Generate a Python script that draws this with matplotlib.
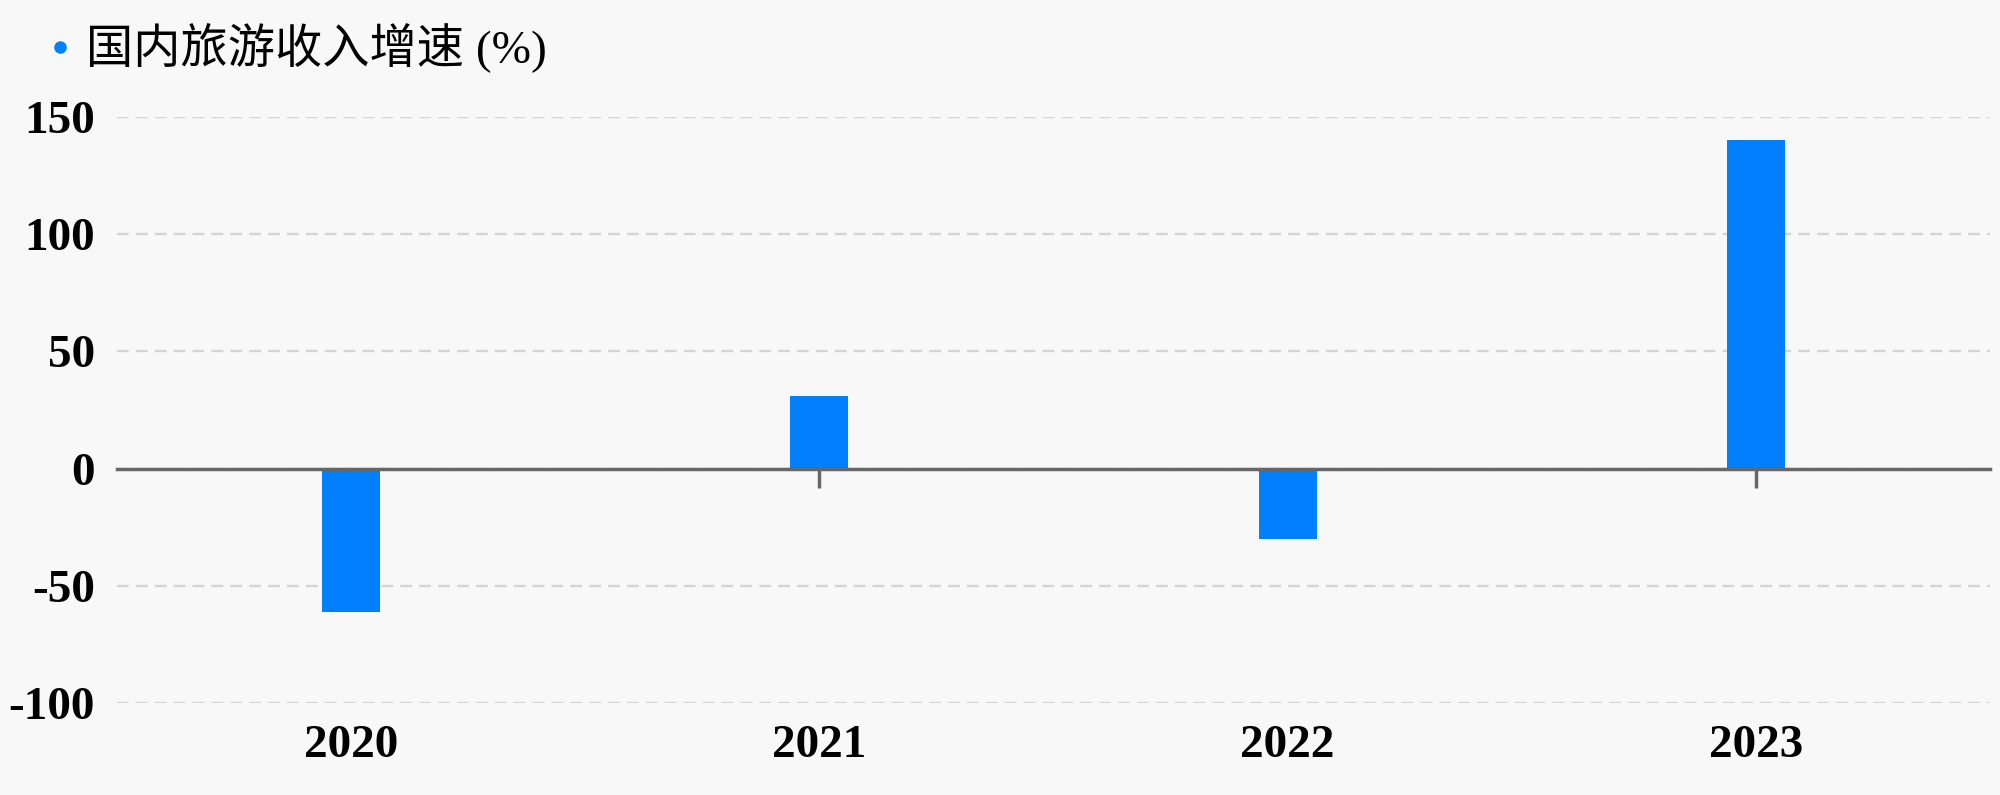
import numpy as np
import matplotlib.pyplot as plt
from matplotlib.lines import Line2D

# data
years  = ['2020', '2021', '2022', '2023']
growth = [-61.1, 31.0, -30.0, 140.3]
yticks = [-100, -50, 0, 50, 100, 150]
series_name = '国内旅游收入增速 (%)'

BG   = '#f8f8f8'
BLUE = '#0080ff'

fig = plt.figure(figsize=(20, 7.95), dpi=100, facecolor=BG)
ax = fig.add_axes([117/2000, 1-703/795, (1990-117)/2000, (703-117)/795])
ax.set_facecolor(BG)

xpos = np.arange(len(years))
ax.bar(xpos, growth, width=0.124, color=BLUE, zorder=1)

ax.set_xlim(-0.5, len(years)-0.5)
ax.set_ylim(yticks[0], yticks[-1])
ax.set_yticks(yticks)
ax.set_yticklabels([str(v) for v in yticks])

# grid
ax.set_axisbelow(True)
ax.grid(axis='y', color='#d4d4d4', lw=1.7, ls=(0, (5.0, 3.0)))
ax.grid(axis='x', visible=False)

# spines: zero line carries the ticks
for s in ['top', 'right', 'left']:
  ax.spines[s].set_visible(False)
ax.spines['bottom'].set_position(('data', 0))
ax.spines['bottom'].set_color('#666666')
ax.spines['bottom'].set_linewidth(2.5)
ax.set_xticks(xpos)
ax.tick_params(axis='x', length=14, width=2.5, color='#666666', labelbottom=False)
ax.tick_params(axis='y', length=0, pad=16)

lab_font = dict(family='Liberation Serif', weight='bold', size=34)
for t in ax.get_yticklabels():
  t.set_fontproperties(lab_font)

sec = ax.secondary_xaxis('bottom')
sec.set_xticks(xpos)
sec.set_xticklabels(years)
sec.tick_params(length=0, pad=16)
sec.spines['bottom'].set_visible(False)
for t in sec.get_xticklabels():
  t.set_fontproperties(lab_font)

# legend
hnd = [Line2D([], [], ls='none', marker='o', ms=8, color=BLUE)]
fig.legend(hnd, [series_name], loc='upper left', bbox_to_anchor=(-0.003, 1.024),
           frameon=False, handletextpad=0.05, handlelength=1.0,
           prop=dict(family=['Liberation Serif', 'Noto Sans CJK SC'], size=34))

plt.savefig('out.png', dpi=100, facecolor=BG)
plt.close()
